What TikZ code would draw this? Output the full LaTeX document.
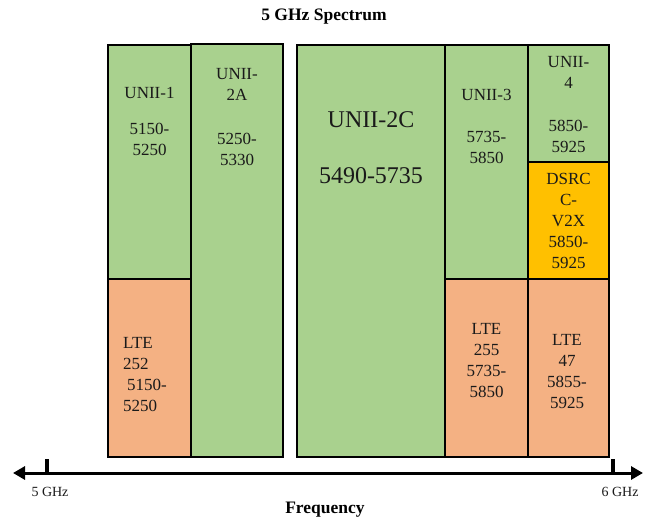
\documentclass[tikz,border=0pt]{standalone}
\usepackage{fontspec}
\setmainfont{Liberation Serif}
\usetikzlibrary{arrows.meta}
\definecolor{bandgreen}{HTML}{A9D18E}
\definecolor{bandorange}{HTML}{F4B183}
\definecolor{bandgold}{HTML}{FFC000}
\definecolor{inkgray}{HTML}{1A1A1A}
\tikzset{
  band/.style={draw=black, line width=1.3pt, rectangle, inner sep=0pt, outer sep=0pt},
  gband/.style={band, fill=bandgreen},
  oband/.style={band, fill=bandorange},
  yband/.style={band, fill=bandgold, line width=2.6pt},
  lbl/.style={inner sep=0pt, text=inkgray, font=\fontsize{17}{21}\selectfont, align=center, anchor=north},
  biglbl/.style={inner sep=0pt, text=inkgray, font=\fontsize{24}{28}\selectfont, align=center, anchor=north},
  axislbl/.style={inner sep=0pt, text=inkgray, font=\fontsize{14}{16}\selectfont, anchor=base},
  headlbl/.style={inner sep=0pt, text=black, font=\fontsize{17.5}{20}\selectfont\bfseries, anchor=base},
  axisline/.style={line width=3pt, {Triangle[length=12pt,width=13pt]}-{Triangle[length=12pt,width=13pt]}},
  tickline/.style={line width=3.5pt}
}
\begin{document}
\begin{tikzpicture}[x=1pt,y=-1pt]
\useasboundingbox (0,0) rectangle (649,519);
\fill[white] (0,0) rectangle (649,519);

% title
\node[headlbl] (title) at (324,21) {5 GHz Spectrum};

% bands
\node[gband, minimum width=83pt, minimum height=234pt] (u1) at (149.5,162) {};
\node[oband, minimum width=83pt, minimum height=178pt] (l252) at (149.5,368) {};
\node[gband, minimum width=92pt, minimum height=413pt] (u2a) at (237,250.5) {};
\node[gband, minimum width=148pt, minimum height=412pt] (u2c) at (371,251) {};
\node[gband, minimum width=83pt, minimum height=234pt] (u3) at (486.5,162) {};
\node[oband, minimum width=83pt, minimum height=178pt] (l255) at (486.5,368) {};
\node[gband, minimum width=81pt, minimum height=117pt] (u4) at (568.5,103.5) {};
\node[oband, minimum width=81pt, minimum height=178pt] (l47) at (568.5,368) {};
\node[yband, minimum width=81pt, minimum height=117pt] (dsrc) at (568.5,220.5) {};

% labels
\node[lbl] (t1) at (149.5,86.7) {UNII-1\\[15pt]5150-\\5250};
\node[lbl] (t2a) at (237,68.3) {UNII-\\2A\\[23pt]5250-\\5330};
\node[biglbl] (t2c) at (371,111.7) {UNII-2C\\[28pt]5490-5735};
\node[lbl] (t3) at (486.5,88.9) {UNII-3\\[21pt]5735-\\5850};
\node[lbl] (t4) at (568.5,56.1) {UNII-\\4\\[22.5pt]5850-\\5925};
\node[lbl] (tds) at (568.5,173.1) {DSRC\\C-\\V2X\\5850-\\5925};
\node[lbl, align=left, anchor=north west] (t252) at (123,336.7) {LTE\\252\\\hspace*{4pt}5150-\\5250};
\node[lbl] (t255) at (486.5,323.2) {LTE\\255\\5735-\\5850};
\node[lbl] (t47) at (567,333.7) {LTE\\47\\5855-\\5925};

% axis
\coordinate (axl) at (13,473);
\coordinate (axr) at (643,473);
\coordinate (tk5top) at (47,459);
\coordinate (tk5bot) at (47,473);
\coordinate (tk6top) at (613,459);
\coordinate (tk6bot) at (613,473);
\draw[axisline] (axl) -- (axr);
\draw[tickline] (tk5top) -- (tk5bot);
\draw[tickline] (tk6top) -- (tk6bot);

\node[axislbl] (g5) at (50,496) {5 GHz};
\node[axislbl] (g6) at (620,496) {6 GHz};
\node[headlbl] (freq) at (325,513) {Frequency};
\end{tikzpicture}
\end{document}
